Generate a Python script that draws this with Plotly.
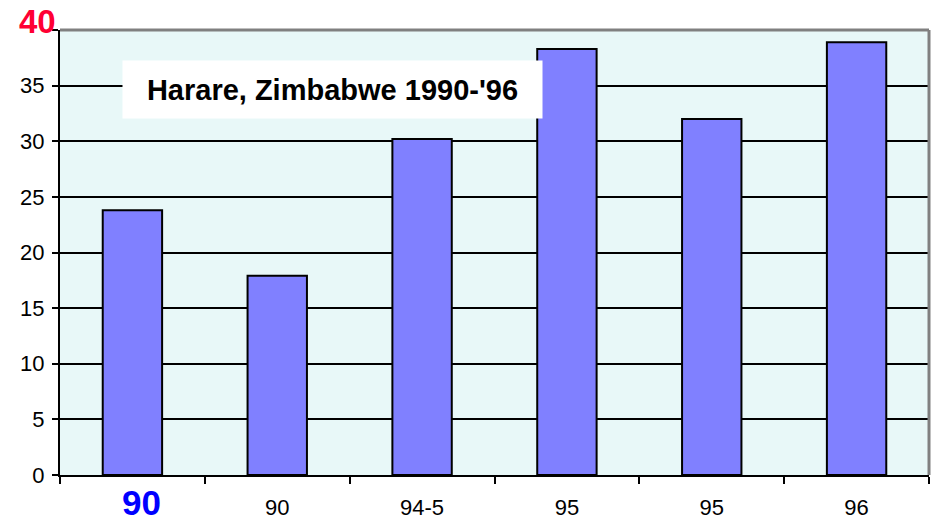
import plotly.graph_objects as go

# data
labels = ["90", "90", "94-5", "95", "95", "96"]
values = [23.8, 17.9, 30.2, 38.3, 32.0, 38.9]
y_ticks = [0, 5, 10, 15, 20, 25, 30, 35, 40]
title_text = "Harare, Zimbabwe 1990-'96"

x_pos = [i + 0.5 for i in range(len(labels))]

# first x label and top y label are drawn separately (bigger, coloured)
x_ticktext = [""] + labels[1:]
y_ticktext = [str(v) for v in y_ticks[:-1]] + [""]

fig = go.Figure()
fig.add_trace(go.Bar(
    x=x_pos, y=values, width=0.41,
    marker=dict(color="#8080FF", line=dict(color="black", width=2)),
))

fig.update_layout(
    width=931, height=521,
    margin=dict(l=60, r=2, t=30, b=46),
    plot_bgcolor="#E8F8F8",
    paper_bgcolor="white",
    font=dict(family="Liberation Sans, Arial, sans-serif", size=22, color="black"),
    showlegend=False,
    xaxis=dict(
        range=[0, len(labels)],
        tickvals=x_pos, ticktext=x_ticktext,
        ticks="", showgrid=False, zeroline=False,
        showline=True, linecolor="black", linewidth=2,
        ticklabelstandoff=12,
        minor=dict(tick0=0, dtick=1, ticks="outside", ticklen=7,
                   tickwidth=2, tickcolor="black", showgrid=False),
    ),
    yaxis=dict(
        range=[0, 40],
        tickvals=y_ticks, ticktext=y_ticktext,
        ticks="outside", ticklen=6, tickwidth=2, tickcolor="black",
        ticklabelstandoff=3,
        showgrid=True, gridcolor="black", gridwidth=2,
        zeroline=False, showline=True, linecolor="black", linewidth=2,
    ),
)

# grey frame on top and right
fig.add_shape(type="line", xref="paper", yref="paper", x0=0, x1=1, y0=1, y1=1,
              line=dict(color="#808080", width=3))
fig.add_shape(type="line", xref="paper", yref="paper", x0=1, x1=1, y0=0, y1=1,
              line=dict(color="#808080", width=3))

fig.add_annotation(
    text="<b>%s</b>" % title_text,
    xref="paper", yref="paper", x=0.3136, y=0.866,
    xanchor="center", yanchor="middle",
    showarrow=False, bgcolor="white", width=417, height=55,
    font=dict(size=29, color="black"),
)

# emphasised labels
fig.add_annotation(
    text="<b>%d</b>" % y_ticks[-1],
    xref="paper", yref="y", x=0, y=y_ticks[-1],
    xanchor="right", yanchor="top", xshift=-2, yshift=29,
    showarrow=False, font=dict(size=33, color="#FF0033"),
)
fig.add_annotation(
    text="<b>%s</b>" % labels[0],
    xref="x", yref="paper", x=x_pos[0], y=0,
    xanchor="center", yanchor="middle", xshift=9, yshift=-27,
    showarrow=False, font=dict(size=35, color="#0000FF"),
)

# drop the default body margin so the figure fills the window exactly
fig.write_html("out.html", config={"displayModeBar": False},
               post_script="document.body.style.margin='0';")
